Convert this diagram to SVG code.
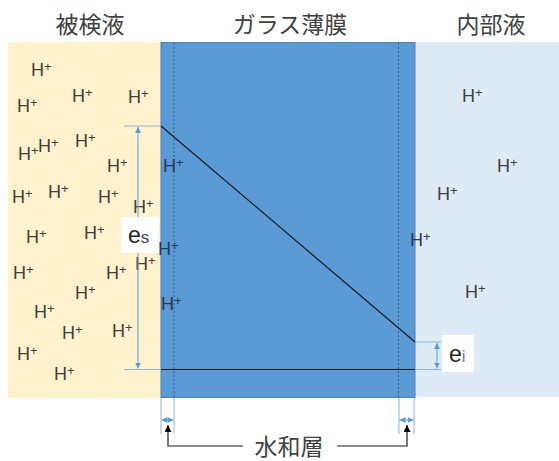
<svg xmlns="http://www.w3.org/2000/svg" width="559" height="461" viewBox="0 0 559 461">
<style>
.title{font-family:"Noto Sans CJK JP","Noto Sans",sans-serif;font-size:23px;fill:#404040;text-anchor:middle}
.h{font-family:"Liberation Sans",Arial,sans-serif;font-size:18px;fill:#404040}
.hg{fill:#26385a}
.p{font-size:13px}
.dim{stroke:#5B9BD5;stroke-width:1;fill:none}
.ext{stroke:#8DB4E2;stroke-width:1;fill:none}
.dash{stroke:#2E5A8E;stroke-width:1;stroke-dasharray:2,2;fill:none}
.blk{stroke:#1a1a1a;stroke-width:1.2;fill:none}
.lbl{font-family:"Liberation Sans",Arial,sans-serif;fill:#262626}
</style>
<defs>
<marker id="ab" viewBox="0 0 10 10" refX="10" refY="5" markerWidth="6" markerHeight="6" orient="auto-start-reverse" markerUnits="userSpaceOnUse"><path d="M0,0 L10,5 L0,10z" fill="#5B9BD5"/></marker>
<marker id="ak" viewBox="0 0 10 10" refX="10" refY="5" markerWidth="7" markerHeight="7" orient="auto" markerUnits="userSpaceOnUse"><path d="M0,0 L10,5 L0,10z" fill="#000"/></marker>
</defs>
<rect width="559" height="461" fill="#fff"/>
<g id="titles">
<text class="title" x="90" y="33">被検液</text>
<text class="title" x="290" y="33">ガラス薄膜</text>
<text class="title" x="491" y="33">内部液</text>
</g>
<g id="sample">
<rect x="8" y="42" width="153" height="356" fill="#FFF2CC"/>
<g class="h">
<text x="31" y="76">H<tspan class="p" dy="-5">+</tspan></text>
<text x="17" y="112">H<tspan class="p" dy="-5">+</tspan></text>
<text x="72" y="102">H<tspan class="p" dy="-5">+</tspan></text>
<text x="128" y="103">H<tspan class="p" dy="-5">+</tspan></text>
<text x="18" y="160">H<tspan class="p" dy="-5">+</tspan></text>
<text x="38" y="152">H<tspan class="p" dy="-5">+</tspan></text>
<text x="75" y="147">H<tspan class="p" dy="-5">+</tspan></text>
<text x="107" y="172">H<tspan class="p" dy="-5">+</tspan></text>
<text x="12" y="203">H<tspan class="p" dy="-5">+</tspan></text>
<text x="48" y="198">H<tspan class="p" dy="-5">+</tspan></text>
<text x="98" y="203">H<tspan class="p" dy="-5">+</tspan></text>
<text x="133" y="213">H<tspan class="p" dy="-5">+</tspan></text>
<text x="26" y="243">H<tspan class="p" dy="-5">+</tspan></text>
<text x="84" y="239">H<tspan class="p" dy="-5">+</tspan></text>
<text x="13" y="279">H<tspan class="p" dy="-5">+</tspan></text>
<text x="106" y="279">H<tspan class="p" dy="-5">+</tspan></text>
<text x="135" y="270">H<tspan class="p" dy="-5">+</tspan></text>
<text x="75" y="299">H<tspan class="p" dy="-5">+</tspan></text>
<text x="34" y="318">H<tspan class="p" dy="-5">+</tspan></text>
<text x="62" y="339">H<tspan class="p" dy="-5">+</tspan></text>
<text x="112" y="337">H<tspan class="p" dy="-5">+</tspan></text>
<text x="17" y="360">H<tspan class="p" dy="-5">+</tspan></text>
<text x="54" y="380">H<tspan class="p" dy="-5">+</tspan></text>
</g>
</g>
<g id="inner">
<rect x="415" y="42" width="144" height="355" fill="#DEEBF7"/>
<g class="h">
<text x="462" y="102">H<tspan class="p" dy="-5">+</tspan></text>
<text x="497" y="172">H<tspan class="p" dy="-5">+</tspan></text>
<text x="437" y="200">H<tspan class="p" dy="-5">+</tspan></text>
<text x="465" y="298">H<tspan class="p" dy="-5">+</tspan></text>
</g>
</g>
<g id="glass">
<rect x="161" y="42.5" width="254" height="355" fill="#5B9BD5" stroke="#4A7FB5" stroke-width="1"/>
<line class="dash" x1="174" y1="43" x2="174" y2="397"/>
<line class="dash" x1="398.5" y1="43" x2="398.5" y2="397"/>
<g class="h hg">
<text x="163" y="172">H<tspan class="p" dy="-5">+</tspan></text>
<text x="158" y="255">H<tspan class="p" dy="-5">+</tspan></text>
<text x="161" y="310">H<tspan class="p" dy="-5">+</tspan></text>
<text x="410" y="246">H<tspan class="p" dy="-5">+</tspan></text>
</g>
</g>
<g id="connectors">
<line class="blk" x1="161" y1="126" x2="415" y2="342"/>
<line class="blk" x1="161" y1="369.5" x2="415" y2="369.5"/>
<line class="ext" x1="124" y1="126" x2="161" y2="126"/>
<line class="ext" x1="124" y1="369.5" x2="161" y2="369.5"/>
<line class="dim" x1="138" y1="127" x2="138" y2="368.5" marker-start="url(#ab)" marker-end="url(#ab)"/>
<line class="ext" x1="415" y1="342" x2="441" y2="342"/>
<line class="ext" x1="415" y1="369.5" x2="441" y2="369.5"/>
<line class="dim" x1="437" y1="343" x2="437" y2="368.5" marker-start="url(#ab)" marker-end="url(#ab)"/>
<line class="ext" x1="161" y1="398" x2="161" y2="434"/>
<line class="ext" x1="174" y1="398" x2="174" y2="434"/>
<line class="ext" x1="399" y1="398" x2="399" y2="434"/>
<line class="ext" x1="414" y1="398" x2="414" y2="434"/>
<line class="dim" x1="161.5" y1="420" x2="173.5" y2="420" marker-start="url(#ab)" marker-end="url(#ab)"/>
<line class="dim" x1="399.5" y1="420" x2="413.5" y2="420" marker-start="url(#ab)" marker-end="url(#ab)"/>
<polyline class="blk" points="243,446 168,446 168,425" marker-end="url(#ak)" stroke-width="1"/>
<polyline class="blk" points="337,446 407,446 407,425" marker-end="url(#ak)" stroke-width="1"/>
</g>
<g id="label-es">
<rect x="121" y="217" width="38" height="36" fill="#fff"/>
<text class="lbl" x="128" y="243"><tspan font-size="23">e</tspan><tspan font-size="17" fill="#404040">s</tspan></text>
</g>
<g id="label-ei">
<rect x="442" y="335" width="32" height="37" fill="#fff"/>
<text class="lbl" x="449" y="362"><tspan font-size="23">e</tspan><tspan font-size="17" fill="#7F6AA8">i</tspan></text>
</g>
<g id="label-hydration">
<text class="title" x="289" y="455" font-size="22">水和層</text>
</g>
</svg>
